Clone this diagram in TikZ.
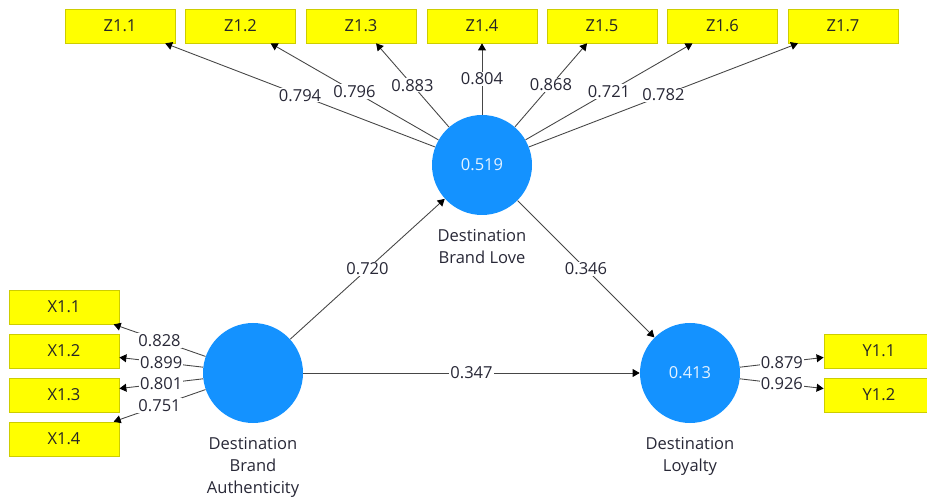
\documentclass[tikz,border=0pt]{standalone}
\usepackage{fontspec}
\setmainfont{Open Sans}
\usetikzlibrary{arrows.meta, positioning}
\definecolor{lvblue}{RGB}{20,146,255}
\definecolor{indyellow}{RGB}{255,255,0}
\definecolor{indborder}{RGB}{205,205,0}
\definecolor{pathgray}{RGB}{70,70,70}
\definecolor{numtext}{RGB}{40,40,55}

\begin{document}
\begin{tikzpicture}[
    font=\fontsize{9.4}{12.5}\selectfont,
    latent/.style={circle, fill=lvblue, minimum size=2cm, inner sep=0pt, text=white!88!lvblue},
    indicator/.style={rectangle, draw=indborder, fill=indyellow, minimum width=2.2cm, minimum height=0.68cm, inner sep=0pt, text=black!85},
    caption/.style={align=center, text=numtext, inner sep=0pt},
    arrow/.style={-{Triangle[length=4pt, width=4.5pt, color=black]}, pathgray, line width=0.5pt},
    weight/.style={midway, fill=white, inner sep=0.6pt, text=numtext}
]

\path[use as bounding box] (0,0) rectangle (18.54,-9.94);

\node[latent] (love) at (9.64,-3.30) {0.519};
\node[latent] (auth) at (5.06,-7.46) {};
\node[latent] (loyal) at (13.80,-7.46) {0.413};

\node[caption, below=0.28cm of love] (lovecap) {Destination\\Brand Love};
\node[caption, below=0.28cm of auth] (authcap) {Destination\\Brand\\Authenticity};
\node[caption, below=0.28cm of loyal] (loyalcap) {Destination\\Loyalty};

\node[indicator] (z1) at (2.40,-0.52) {Z1.1};
\node[indicator] (z2) at (4.81,-0.52) {Z1.2};
\node[indicator] (z3) at (7.22,-0.52) {Z1.3};
\node[indicator] (z4) at (9.64,-0.52) {Z1.4};
\node[indicator] (z5) at (12.04,-0.52) {Z1.5};
\node[indicator] (z6) at (14.45,-0.52) {Z1.6};
\node[indicator] (z7) at (16.86,-0.52) {Z1.7};

\node[indicator] (x1) at (1.28,-6.14) {X1.1};
\node[indicator] (x2) at (1.28,-7.02) {X1.2};
\node[indicator] (x3) at (1.28,-7.90) {X1.3};
\node[indicator] (x4) at (1.28,-8.78) {X1.4};

\node[indicator] (y1) at (17.58,-7.02) {Y1.1};
\node[indicator] (y2) at (17.58,-7.90) {Y1.2};

\draw[arrow] (love) -- node[weight]{0.794} (z1);
\draw[arrow] (love) -- node[weight]{0.796} (z2);
\draw[arrow] (love) -- node[weight]{0.883} (z3);
\draw[arrow] (love) -- node[weight]{0.804} (z4);
\draw[arrow] (love) -- node[weight]{0.868} (z5);
\draw[arrow] (love) -- node[weight]{0.721} (z6);
\draw[arrow] (love) -- node[weight]{0.782} (z7);

\draw[arrow] (auth) -- node[weight]{0.828} (x1);
\draw[arrow] (auth) -- node[weight]{0.899} (x2);
\draw[arrow] (auth) -- node[weight]{0.801} (x3);
\draw[arrow] (auth) -- node[weight]{0.751} (x4);

\draw[arrow] (loyal) -- node[weight]{0.879} (y1);
\draw[arrow] (loyal) -- node[weight]{0.926} (y2);

\draw[arrow] (auth) -- node[weight]{0.720} (love);
\draw[arrow] (love) -- node[weight]{0.346} (loyal);
\draw[arrow] (auth) -- node[weight]{0.347} (loyal);

\end{tikzpicture}
\end{document}
